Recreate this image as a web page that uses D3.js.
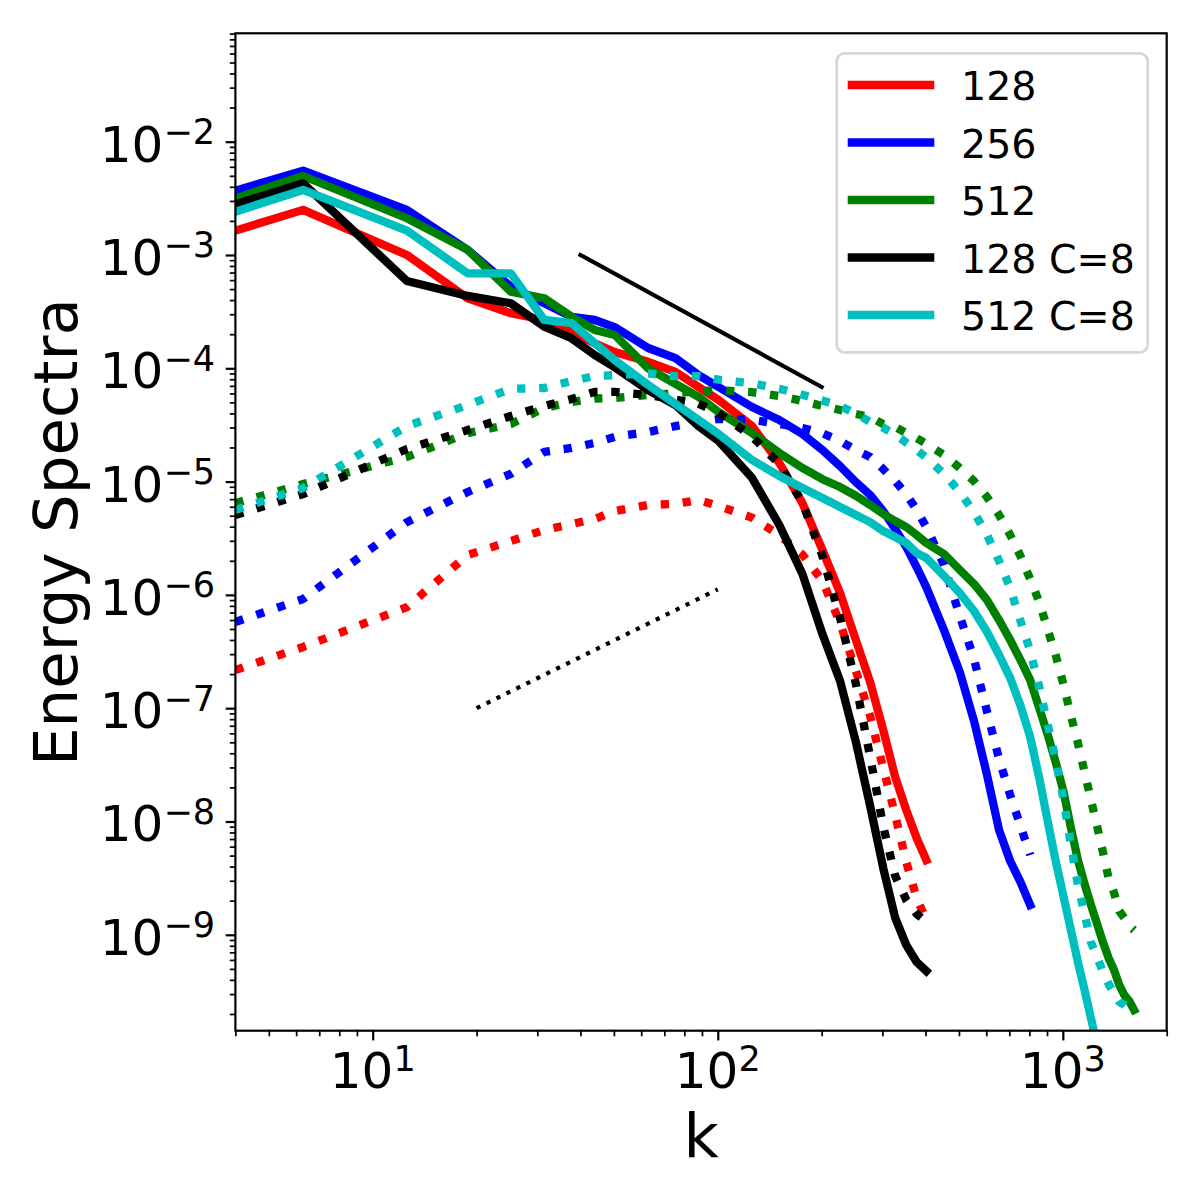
<!DOCTYPE html>
<html>
<head>
<meta charset="utf-8">
<script src="https://cdn.jsdelivr.net/npm/d3@7"></script>
<style>
    body { margin: 0; background: #ffffff; }
    svg { display: block; font-family: "DejaVu Sans", sans-serif; }
</style>
</head>
<body>
<div id="chart"></div>
<script>

// wavenumbers (k = 2*pi*n), first entry sits on the left edge of the axis
const k128 = [4, 6.283, 12.566, 18.850, 25.133, 31.416, 37.699, 43.982, 50.265, 62.832, 75.398,
    87.965, 100.531, 125.664, 150.796, 175.929, 201.062, 226.195, 251.327, 276.460, 301.593,
    326.726, 351.858, 376.991, 402.124];
const k256 = [4, 6.283, 12.566, 18.850, 25.133, 31.416, 37.699, 43.982, 50.265, 62.832, 75.398,
    87.965, 100.531, 125.664, 150.796, 175.929, 201.062, 226.195, 251.327, 276.460, 301.593,
    326.726, 351.858, 376.991, 402.124, 452.389, 502.655, 552.920, 603.186, 653.451, 703.717,
    753.982, 804.248];
const k512 = [4, 6.283, 12.566, 18.850, 25.133, 31.416, 37.699, 43.982, 50.265, 62.832, 75.398,
    87.965, 100.531, 125.664, 150.796, 175.929, 201.062, 226.195, 251.327, 276.460, 301.593,
    326.726, 351.858, 376.991, 402.124, 452.389, 502.655, 552.920, 603.186, 653.451, 703.717,
    753.982, 804.248, 854.513, 904.779, 955.044, 1005.310, 1055.575, 1105.841, 1156.106,
    1206.372, 1256.637, 1306.903, 1357.168, 1407.434, 1457.699, 1507.964, 1558.230, 1608.495];

// solid = full spectra, dotted = second spectra
const red128 = [1.64e-3, 2.50e-3, 1.0e-3, 4.15e-4, 3.06e-4, 2.67e-4, 2.10e-4, 1.66e-4, 1.39e-4, 1.14e-4,
    9.3e-5, 6.84e-5, 5.25e-5, 3.09e-5, 1.46e-5, 6.46e-6, 2.49e-6, 1.04e-6, 4.0e-7, 1.70e-7, 6.43e-8,
    2.47e-8, 1.26e-8, 7.15e-9, 4.57e-9];
const red128Dot = [2.17e-7, 3.47e-7, 7.81e-7, 2.25e-6, 2.99e-6, 3.74e-6, 4.22e-6, 4.67e-6, 5.5e-6, 6.22e-6,
    6.35e-6, 6.88e-6, 6.09e-6, 4.81e-6, 3.38e-6, 2.27e-6, 1.33e-6, 5.65e-7, 2.13e-7, 8.54e-8, 2.97e-8,
    1.14e-8, 4.38e-9, 2.11e-9, 1.35e-9];

const blue256 = [3.70e-3, 5.55e-3, 2.50e-3, 1.11e-3, 5.25e-4, 3.75e-4, 2.85e-4, 2.67e-4, 2.31e-4, 1.51e-4,
    1.23e-4, 8.7e-5, 6.84e-5, 4.55e-5, 3.5e-5, 2.63e-5, 1.9e-5, 1.37e-5, 9.9e-6, 7.62e-6, 5.5e-6,
    3.81e-6, 2.65e-6, 1.76e-6, 1.17e-6, 4.9e-7, 2.09e-7, 7.7e-8, 2.57e-8, 8.4e-9, 4.48e-9, 2.92e-9, 1.83e-9];
const blue256Dot = [5.77e-7, 9.2e-7, 4.39e-6, 8.1e-6, 1.17e-5, 1.83e-5, 1.98e-5, 2.19e-5, 2.48e-5, 2.74e-5,
    3.09e-5, 3.36e-5, 3.57e-5, 3.52e-5, 3.22e-5, 2.97e-5, 2.67e-5, 2.28e-5, 1.9e-5, 1.65e-5, 1.29e-5,
    1.01e-5, 7.76e-6, 5.62e-6, 3.97e-6, 1.84e-6, 6.53e-7, 2.72e-7, 9.26e-8, 3.56e-8, 1.71e-8, 9.12e-9, 5.06e-9];

const green512 = [3.16e-3, 4.98e-3, 2.11e-3, 1.11e-3, 4.74e-4, 4.15e-4, 2.85e-4, 2.18e-4, 1.97e-4, 1.0e-4,
    7.28e-5, 5.59e-5, 4.11e-5, 2.68e-5, 1.79e-5, 1.32e-5, 1.05e-5, 8.95e-6, 7.5e-6, 6.22e-6, 5.18e-6,
    4.49e-6, 3.97e-6, 3.38e-6, 2.87e-6, 2.3e-6, 1.66e-6, 1.25e-6, 9.0e-7, 6.0e-7, 4.0e-7, 2.66e-7, 1.77e-7,
    1.0e-7, 5.8e-8, 3.28e-8, 1.82e-8, 8.76e-9, 4.57e-9, 2.81e-9, 1.83e-9, 1.25e-9, 8.6e-10, 6.25e-10,
    4.89e-10, 3.6e-10, 2.94e-10, 2.6e-10, 2.17e-10];
const green512Dot = [6.46e-6, 9.5e-6, 1.65e-5, 2.68e-5, 3.22e-5, 4.46e-5, 5.04e-5, 5.41e-5, 5.47e-5, 5.82e-5,
    6.0e-5, 6.3e-5, 6.4e-5, 6.15e-5, 5.7e-5, 5.15e-5, 4.65e-5, 4.29e-5, 3.95e-5, 3.72e-5, 3.22e-5,
    3.03e-5, 2.68e-5, 2.42e-5, 2.15e-5, 1.72e-5, 1.32e-5, 1.01e-5, 7.3e-6, 5.07e-6, 3.38e-6, 2.2e-6, 1.38e-6,
    8.66e-7, 4.9e-7, 2.89e-7, 1.60e-7, 8.54e-8, 4.93e-8, 2.73e-8, 1.55e-8, 9.12e-9, 5.38e-9, 3.17e-9,
    2.34e-9, 1.62e-9, 1.41e-9, 1.2e-9, 1.10e-9];

const black128C8 = [2.80e-3, 4.29e-3, 5.89e-4, 4.35e-4, 3.75e-4, 2.33e-4, 1.84e-4, 1.31e-4, 1.02e-4, 6.43e-5,
    4.74e-5, 3.09e-5, 2.28e-5, 1.08e-5, 4.14e-6, 1.53e-6, 4.51e-7, 1.74e-7, 5.03e-8, 1.37e-8, 3.89e-9,
    1.41e-9, 8.1e-10, 5.75e-10, 4.79e-10];
const black128C8Dot = [5.07e-6, 7.76e-6, 1.94e-5, 2.85e-5, 3.79e-5, 4.65e-5, 5.35e-5, 6.18e-5, 6.18e-5, 5.82e-5,
    5.29e-5, 4.86e-5, 4.03e-5, 2.5e-5, 1.43e-5, 6.52e-6, 2.2e-6, 6.25e-7, 1.64e-7, 3.71e-8, 9.12e-9,
    3.3e-9, 2.03e-9, 1.53e-9, 1.30e-9];

const cyan512C8 = [2.41e-3, 3.75e-3, 1.64e-3, 6.89e-4, 6.89e-4, 2.67e-4, 2.5e-4, 1.67e-4, 1.18e-4, 7.13e-5,
    4.84e-5, 3.5e-5, 2.63e-5, 1.55e-5, 1.12e-5, 8.77e-6, 7.16e-6, 5.97e-6, 5.07e-6, 4.39e-6, 3.66e-6,
    3.24e-6, 2.87e-6, 2.34e-6, 2.12e-6, 1.47e-6, 1.04e-6, 7.21e-7, 4.70e-7, 2.95e-7, 1.85e-7, 1.05e-7, 5.57e-8,
    2.42e-8, 9.9e-9, 4.38e-9, 2.16e-9, 1.10e-9, 5.75e-10, 3.26e-10, 1.84e-10, 1.06e-10, 6.67e-11, 4.44e-11,
    3.15e-11, 2.32e-11, 1.78e-11, 1.40e-11, 1.12e-11];
const cyan512C8Dot = [5.62e-6, 8.77e-6, 3.09e-5, 4.74e-5, 6.58e-5, 6.7e-5, 7.72e-5, 8.53e-5, 8.7e-5, 9.0e-5,
    8.53e-5, 8.53e-5, 7.93e-5, 7.37e-5, 6.6e-5, 5.84e-5, 5.2e-5, 4.65e-5, 3.98e-5, 3.36e-5, 2.99e-5,
    2.6e-5, 2.21e-5, 1.9e-5, 1.63e-5, 1.17e-5, 8.1e-6, 5.39e-6, 3.38e-6, 1.99e-6, 1.15e-6, 5.88e-7, 3.2e-7,
    1.54e-7, 7.1e-8, 3.42e-8, 1.55e-8, 6.2e-9, 2.75e-9, 1.53e-9, 8.6e-10, 6.37e-10, 4.69e-10, 3.68e-10,
    3.0e-10, 2.55e-10, 2.4e-10, 2.21e-10, 2.08e-10];

// reference slopes: k^(-5/3) solid, k^(3/2) dotted
const slopeSolidK = [40, 200];
const slopeSolidE = [1.0e-3, 6.84e-5];
const slopeDotK = [20, 100];
const slopeDotE = [1.0e-7, 1.12e-6];

const legendLabels = ["128", "256", "512", "128 C=8", "512 C=8"];
const legendColors = ["#ff0000", "#0000ff", "#008000", "#000000", "#00bfbf"];

const xTickExp = [1, 2, 3];
const yTickExp = [-9, -8, -7, -6, -5, -4, -3, -2];


class SpectraVis {

    constructor(parentElement) {
        this.parentElement = parentElement;
        this.initVis();
    }

    initVis() {
        let vis = this;

        vis.box = {left: 235.4, right: 1166.7, top: 33.3, bottom: 1030.7};

        vis.svg = d3.select("#" + vis.parentElement).append("svg")
            .attr("width", 1200)
            .attr("height", 1200);

        vis.svg.append("clipPath").attr("id", "plotClip")
            .append("rect")
            .attr("x", vis.box.left).attr("y", vis.box.top)
            .attr("width", vis.box.right - vis.box.left)
            .attr("height", vis.box.bottom - vis.box.top);

        // scales
        vis.x = d3.scaleLog().domain([4, 2000]).range([vis.box.left, vis.box.right]);
        vis.y = d3.scaleLog().domain([1.424e-10, 0.0905]).range([vis.box.bottom, vis.box.top]);

        vis.line = d3.line()
            .x(d => vis.x(d.k))
            .y(d => vis.y(d.e));

        vis.plotArea = vis.svg.append("g").attr("clip-path", "url(#plotClip)");

        vis.series = [
            {k: k128, e: red128, color: legendColors[0], dotted: false},
            {k: k128, e: red128Dot, color: legendColors[0], dotted: true},
            {k: k256, e: blue256, color: legendColors[1], dotted: false},
            {k: k256, e: blue256Dot, color: legendColors[1], dotted: true},
            {k: k512, e: green512, color: legendColors[2], dotted: false},
            {k: k512, e: green512Dot, color: legendColors[2], dotted: true},
            {k: k128, e: black128C8, color: legendColors[3], dotted: false},
            {k: k128, e: black128C8Dot, color: legendColors[3], dotted: true},
            {k: k512, e: cyan512C8, color: legendColors[4], dotted: false},
            {k: k512, e: cyan512C8Dot, color: legendColors[4], dotted: true}
        ];

        vis.updateVis();
    }

    updateVis() {
        let vis = this;

        // spectra
        vis.series.forEach(s => {
            vis.plotArea.append("path")
                .datum(s.k.map((k, i) => ({k: k, e: s.e[i]})))
                .attr("d", vis.line)
                .attr("fill", "none")
                .attr("stroke", s.color)
                .attr("stroke-width", 8.3)
                .attr("stroke-linejoin", "round")
                .attr("stroke-linecap", s.dotted ? "butt" : "square")
                .attr("stroke-dasharray", s.dotted ? "8.3,13.75" : null);
        });

        // slope guides
        vis.plotArea.append("path")
            .datum(slopeSolidK.map((k, i) => ({k: k, e: slopeSolidE[i]})))
            .attr("d", vis.line)
            .attr("fill", "none")
            .attr("stroke", "#000")
            .attr("stroke-width", 4.2)
            .attr("stroke-linecap", "square");

        vis.plotArea.append("path")
            .datum(slopeDotK.map((k, i) => ({k: k, e: slopeDotE[i]})))
            .attr("d", vis.line)
            .attr("fill", "none")
            .attr("stroke", "#000")
            .attr("stroke-width", 4.2)
            .attr("stroke-dasharray", "4.2,6.9");

        // minor tick positions (2..9 in each decade)
        let xMinor = [], yMinor = [];
        for (let p = 0; p <= 3; p++) {
            for (let m = 2; m <= 9; m++) {
                let v = m * Math.pow(10, p);
                if (v >= 4 && v <= 2000) xMinor.push(v);
            }
        }
        for (let p = -11; p <= -1; p++) {
            for (let m = 2; m <= 9; m++) {
                let v = m * Math.pow(10, p);
                if (v >= 1.424e-10 && v <= 0.0905) yMinor.push(v);
            }
        }

        let xMajor = xTickExp.map(p => Math.pow(10, p));
        let yMajor = yTickExp.map(p => Math.pow(10, p));

        let bottom = vis.svg.append("g").attr("transform", `translate(0, ${vis.box.bottom})`);
        bottom.call(d3.axisBottom(vis.x).tickValues(xMajor).tickSize(9.7).tickFormat(""));
        bottom.append("g").call(d3.axisBottom(vis.x).tickValues(xMinor).tickSize(5.6).tickFormat(""))
            .selectAll("line").attr("stroke-width", 1.7);

        let left = vis.svg.append("g").attr("transform", `translate(${vis.box.left}, 0)`);
        left.call(d3.axisLeft(vis.y).tickValues(yMajor).tickSize(9.7).tickFormat(""));
        left.append("g").call(d3.axisLeft(vis.y).tickValues(yMinor).tickSize(5.6).tickFormat(""))
            .selectAll("line").attr("stroke-width", 1.7);

        vis.svg.selectAll(".domain").remove();
        vis.svg.selectAll(".tick line").filter(function () {
            return !this.getAttribute("stroke-width");
        }).attr("stroke-width", 2.2);

        // frame
        vis.svg.append("rect")
            .attr("x", vis.box.left).attr("y", vis.box.top)
            .attr("width", vis.box.right - vis.box.left)
            .attr("height", vis.box.bottom - vis.box.top)
            .attr("fill", "none")
            .attr("stroke", "#000")
            .attr("stroke-width", 2.2);

        // tick labels with superscripts
        xTickExp.forEach(p => {
            let t = vis.svg.append("text")
                .attr("x", vis.x(Math.pow(10, p)))
                .attr("y", 1088.3)
                .attr("text-anchor", "middle")
                .style("font-size", "50px");
            t.append("tspan").text("10");
            t.append("tspan").attr("dy", -17.6).style("font-size", "35px").text(String(p));
        });

        yTickExp.forEach(p => {
            let t = vis.svg.append("text")
                .attr("x", 215)
                .attr("y", vis.y(Math.pow(10, p)) + 20)
                .attr("text-anchor", "end")
                .style("font-size", "50px");
            t.append("tspan").text("10");
            t.append("tspan").attr("dy", -17.6).style("font-size", "35px").text("\u2212" + Math.abs(p));
        });

        // axis titles
        vis.svg.append("text")
            .attr("transform", "translate(77, 532) rotate(-90)")
            .attr("text-anchor", "middle")
            .style("font-size", "61px")
            .text("Energy Spectra");

        vis.svg.append("text")
            .attr("x", (vis.box.left + vis.box.right) / 2)
            .attr("y", 1157)
            .attr("text-anchor", "middle")
            .style("font-size", "61px")
            .text("k");

        // legend
        let legend = vis.svg.append("g").attr("class", "legend");
        legend.append("rect")
            .attr("x", 836.7).attr("y", 53.3)
            .attr("width", 311).attr("height", 299)
            .attr("rx", 8).attr("ry", 8)
            .attr("fill", "#ffffff").attr("fill-opacity", 0.8)
            .attr("stroke", "#d6d6d6")
            .attr("stroke-width", 2.8);

        legendLabels.forEach((label, i) => {
            let ly = 85 + i * 57.5;
            legend.append("line")
                .attr("x1", 847.7).attr("x2", 934.3)
                .attr("y1", ly).attr("y2", ly)
                .attr("stroke", legendColors[i])
                .attr("stroke-width", 8.3);
            legend.append("text")
                .attr("x", 961)
                .attr("y", ly + 15)
                .style("font-size", "39.5px")
                .text(label);
        });
    }
}

new SpectraVis("chart");

</script>
</body>
</html>
